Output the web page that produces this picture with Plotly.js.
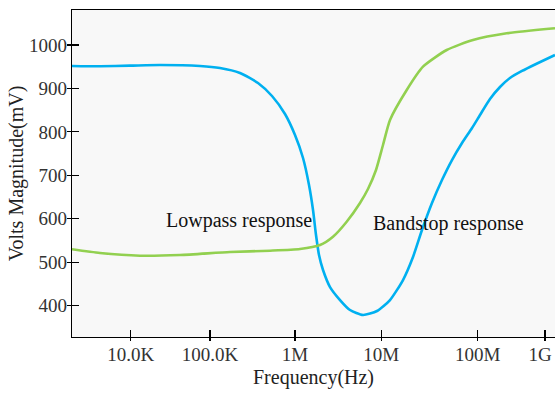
<!DOCTYPE html>
<html>
<head>
<meta charset="utf-8">
<script src="https://cdn.plot.ly/plotly-3.0.1.min.js"></script>
<style>html,body{margin:0;padding:0;background:#fff;}#chart{width:555px;height:396px;}</style>
</head>
<body>
<div id="chart"></div>
<script>
// x values are positions along the (non-uniform) frequency axis, 0..100
var tickPositions = [12.15, 28.57, 46.17, 64.04, 84.0, 97.93];
var tickLabels = ["10.0K", "100.0K", "1M", "10M", "100M", ""];
// the last label sits slightly left of its tick in the reference
var lastLabelPosition = [96.9];
var lastLabel = ["1G"];

var lowpassX = [0, 5.80, 12.01, 18.22, 26.50, 30.64, 34.78, 38.51, 41.41, 44.10, 46.17, 47.83, 49.07, 49.90, 50.52, 51.14, 51.97, 53.42, 55.49, 57.56, 60.25, 63.15, 65.84, 68.53, 70.60, 72.46, 74.53, 76.60, 78.67, 80.75, 82.82, 84.47, 86.54, 88.61, 90.68, 93.17, 96.07, 100];
var lowpassY = [951.7, 951.0, 952.4, 954.0, 951.7, 947.1, 935.6, 912.6, 882.6, 841.2, 792.9, 739.9, 677.8, 620.2, 562.7, 516.7, 482.2, 443.0, 413.1, 390.1, 378.6, 387.8, 413.1, 459.1, 512.1, 574.2, 636.4, 689.3, 735.3, 774.4, 809.0, 838.9, 875.7, 903.3, 924.0, 940.2, 956.3, 977.0];

var bandstopX = [0, 5.80, 14.08, 22.36, 32.71, 41.0, 47.2, 51.35, 54.04, 56.87, 59.63, 61.28, 62.94, 64.39, 65.84, 69.3, 72.67, 77.58, 83.02, 90.0, 100];
var bandstopY = [529.8, 521.3, 515.1, 516.7, 523.6, 526.6, 530.5, 539.7, 558.8, 593.3, 636.4, 668.6, 712.3, 769.8, 827.4, 896.4, 950.1, 988.5, 1011.5, 1026.9, 1038.4];

var yTicks = [400, 500, 600, 700, 800, 900, 1000];

var serif = "Liberation Serif, Times New Roman, serif";

var traces = [
  {x: lowpassX, y: lowpassY, mode: "lines", line: {color: "#00B0F0", width: 2.6, shape: "spline", smoothing: 0.6}, hoverinfo: "skip"},
  {x: bandstopX, y: bandstopY, mode: "lines", line: {color: "#92D050", width: 2.6, shape: "spline", smoothing: 0.6}, hoverinfo: "skip"},
  {x: [], y: [], xaxis: "x2", yaxis: "y2", mode: "lines", hoverinfo: "skip"},
  {x: [], y: [], xaxis: "x3", yaxis: "y", mode: "lines", hoverinfo: "skip"}
];

var axisCommon = {
  showgrid: false, zeroline: false, showline: true, linecolor: "#000", linewidth: 1.2,
  tickcolor: "#000", tickwidth: 1.2, ticks: "inside", ticklen: 7,
  tickfont: {family: serif, size: 19, color: "#333"}
};

var layout = {
  width: 555, height: 396,
  margin: {l: 72, r: 0, t: 10, b: 59},
  paper_bgcolor: "#ffffff",
  plot_bgcolor: "#f8f8f8",
  showlegend: false,
  xaxis: Object.assign({}, axisCommon, {
    range: [0, 100], tickmode: "array", tickvals: tickPositions, ticktext: tickLabels,
    mirror: true,
    title: {text: "Frequency(Hz)", font: {family: serif, size: 20, color: "#222"}, standoff: 6}
  }),
  yaxis: Object.assign({}, axisCommon, {
    range: [328, 1080.5], tickmode: "array", tickvals: yTicks,
    title: {text: "Volts Magnitude(mV)", font: {family: serif, size: 20, color: "#222"}, standoff: 0}
  }),
  xaxis2: {overlaying: "x", matches: "x", anchor: "y2", side: "bottom", showgrid: false, zeroline: false, showline: false,
    tickmode: "array", tickvals: tickPositions, ticks: "outside", ticklen: 3, tickcolor: "#000", tickwidth: 1.2, showticklabels: false},
  yaxis2: {overlaying: "y", matches: "y", anchor: "x2", side: "left", showgrid: false, zeroline: false, showline: false,
    tickmode: "array", tickvals: yTicks, ticks: "outside", ticklen: 4, tickcolor: "#000", tickwidth: 1.2, showticklabels: false},
  xaxis3: {overlaying: "x", matches: "x", anchor: "y", side: "bottom", showgrid: false, zeroline: false, showline: false,
    tickmode: "array", tickvals: lastLabelPosition, ticktext: lastLabel, ticks: "inside", ticklen: 7, tickcolor: "rgba(0,0,0,0)",
    ticklabelstandoff: 4,
    tickfont: {family: serif, size: 19, color: "#333"}},
  annotations: [
    {x: 34.67, y: 597.2, xref: "x", yref: "y", text: "Lowpass response", showarrow: false, font: {family: serif, size: 20, color: "#111"}},
    {x: 77.85, y: 590.3, xref: "x", yref: "y", text: "Bandstop response", showarrow: false, font: {family: serif, size: 20, color: "#111"}}
  ]
};

Plotly.newPlot("chart", traces, layout, {displayModeBar: false, staticPlot: true});
</script>
</body>
</html>
